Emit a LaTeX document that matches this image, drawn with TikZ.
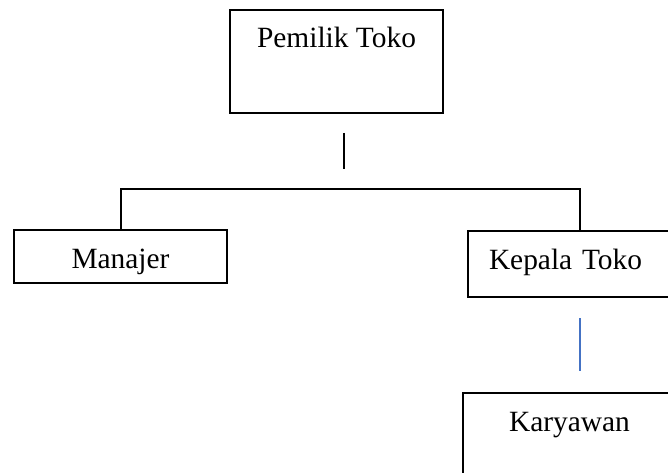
\documentclass[tikz,border=0pt]{standalone}
\usepackage{fontspec}
\setmainfont{Liberation Serif}
\usetikzlibrary{positioning,calc}
\definecolor{wordblue}{HTML}{4472C4}
\tikzset{
    post/.style={
        draw,
        line width=2pt,
        inner xsep=0pt,
        inner ysep=0pt,
        minimum width=213pt,
        text height=38pt,
        align=center,
        font=\fontsize{29.4}{35}\selectfont
    },
    link/.style={
        line width=2pt
    },
    bluelink/.style={
        line width=1.4pt,
        draw=wordblue
    }
}
\begin{document}
\begin{tikzpicture}[x=1pt, y=1pt]

\clip (0,0) rectangle (668,472);

\node[post, text depth=65pt] (owner) at (336.5,410.5) {Pemilik Toko};
\node[post, text depth=15pt] (manager) at (120.5,215.5) {Manajer};
\node[post, text depth=28pt, text width=171pt, inner xsep=21pt, align=left] (head) at (574.5,208) {Kepala Toko};
\node[post, text depth=62pt, below=94pt of head.south, xshift=-5pt] (staff) {Karyawan};

\coordinate (stubtop) at ($(owner.south)+(7.5,-19)$);
\coordinate (stubend) at ($(stubtop)+(0,-36)$);
\coordinate (bus) at ($(stubend)+(0,-20)$);
\coordinate (headdrop) at ($(head.north)+(5.5,0)$);
\coordinate (chaintop) at ($(head.south)+(5.5,-20)$);
\coordinate (chainend) at ($(staff.north)+(10.5,21)$);

\draw[link] (stubtop) -- (stubend);
\draw[link] (manager.north) |- (bus) -| (headdrop);
\draw[bluelink] (chaintop) -- (chainend);

\end{tikzpicture}
\end{document}
